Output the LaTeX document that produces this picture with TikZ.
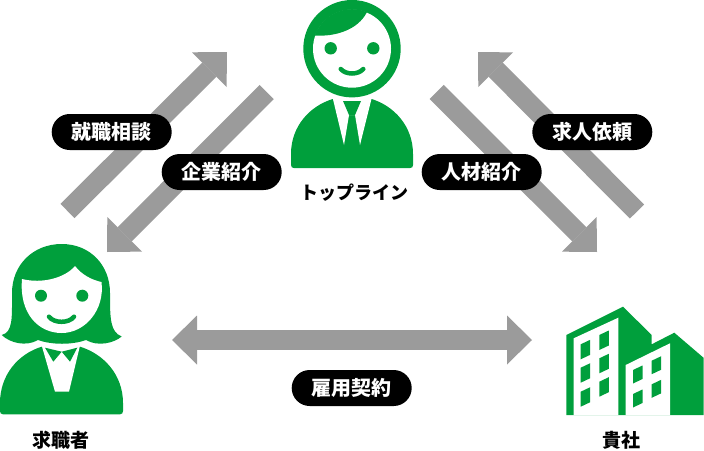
\documentclass[tikz,border=0pt]{standalone}
\usepackage{fontspec}
\usetikzlibrary{arrows.meta,shapes.misc}
\setmainfont{Noto Sans CJK JP}
\definecolor{iconcol}{HTML}{009F3C}
\definecolor{arrowcol}{HTML}{9B9B9B}
\tikzset{
  bigarrow/.style={draw=arrowcol,line width=20pt,-{Triangle[length=25pt,width=49pt,fill=arrowcol,line width=0pt]}},
  bothways/.style={draw=arrowcol,line width=20pt,{Triangle[length=25pt,width=49pt,fill=arrowcol,line width=0pt]}-{Triangle[length=25pt,width=49pt,fill=arrowcol,line width=0pt]}},
  pill/.style={rounded rectangle,fill=black,text=white,minimum width=120pt,minimum height=36pt,inner sep=0pt,font=\fontsize{20}{20}\selectfont\bfseries},
  caption/.style={text=black,inner sep=0pt,font=\fontsize{19}{19}\selectfont\bfseries},
  smile/.style={draw=iconcol,line width=4.5pt,line cap=round}
}
\begin{document}
\begin{tikzpicture}[x=1pt,y=-1pt]
  \useasboundingbox (0,0) rectangle (704,450);

  \coordinate (a1) at (67.5,211);
  \coordinate (b1) at (227,52);
  \coordinate (a2) at (266.7,92);
  \coordinate (b2) at (107,252);
  \coordinate (a3) at (436.7,92);
  \coordinate (b3) at (597,252);
  \coordinate (a4) at (637,211.5);
  \coordinate (b4) at (478,52);
  \coordinate (a5) at (172,340);
  \coordinate (b5) at (532,340);

  \draw[bigarrow] (a1) -- (b1);
  \draw[bigarrow] (a2) -- (b2);
  \draw[bigarrow] (a3) -- (b3);
  \draw[bigarrow] (a4) -- (b4);
  \draw[bothways] (a5) -- (b5);

  \node [pill] (soudan) at (111.7,132) {就職相談};
  \node [pill] (kigyou) at (221.7,172) {企業紹介};
  \node [pill] (jinzai) at (481.7,172) {人材紹介};
  \node [pill] (kyujin) at (592.3,132) {求人依頼};
  \node [pill] (koyou) at (351.7,388) {雇用契約};

  \node [caption,font=\fontsize{18}{18}\selectfont\bfseries] (topline) at (354,193) {トップライン};
  \node [caption] (seeker) at (61,440) {求職者};
  \node [caption] (company) at (621.7,440) {貴社};

  % man
  \fill[iconcol] (352,48.7) circle (48.7);
  \fill[white] (352,48.7) circle (39);
  \begin{scope}
    \clip (352,48.7) circle (39.5);
    \fill[iconcol] (314,35.5) .. controls (335,37) and (358,30) .. (367,12) -- (367,0) -- (300,0) -- cycle;
  \end{scope}
  \fill[iconcol] (330.7,48.3) circle (6.2);
  \fill[iconcol] (373.3,48.3) circle (6.2);
  \draw[smile] (340.7,69) .. controls (346,75) and (358,75) .. (363.3,69);
  \fill[iconcol] (332.7,99) .. controls (310,106) and (291,126) .. (291,154) -- (291,165) .. controls (291,167) and (292,168) .. (294,168)
    -- (410,168) .. controls (412,168) and (413,167) .. (413,165) -- (413,154) .. controls (413,126) and (394,106) .. (371.7,99) -- cycle;
  \fill[white] (332.7,98) -- (344,145) -- (349,115) -- (355,115) -- (360,145) -- (371.7,98) -- cycle;
  \fill[iconcol] (343,101) -- (361,101) -- (355,115) -- (349,115) -- cycle;

  % woman
  \fill[iconcol] (61.7,244) .. controls (90,244) and (110,265) .. (110,293) .. controls (110,318) and (110,332) .. (121.7,336.5)
    .. controls (114,343) and (98,347) .. (86,340) .. controls (72,345) and (52,345) .. (38,340)
    .. controls (26,347) and (10,343) .. (1.7,335) .. controls (13,332) and (12,318) .. (12,293) .. controls (12,265) and (33,244) .. (61.7,244) -- cycle;
  \fill[white] (22,279) .. controls (42,284) and (65,278) .. (75,266) .. controls (82,275) and (92,280) .. (101.5,282)
    .. controls (105,310) and (85,333) .. (61.7,333) .. controls (38,333) and (19,313) .. (22,279) -- cycle;
  \fill[iconcol] (41,295.7) circle (6);
  \fill[iconcol] (82.3,295.7) circle (6);
  \draw[smile] (49,316.7) .. controls (54,323.5) and (69,323.5) .. (74,316.7);
  \fill[iconcol] (41.7,346.7) .. controls (18,354) and (0,375) .. (0,403) -- (0,411) .. controls (0,413) and (1,414.3) .. (3,414.3)
    -- (120,414.3) .. controls (122,414.3) and (123,413) .. (123,411) -- (123,403) .. controls (123,375) and (104,354) .. (80,346.7) -- cycle;
  \fill[white] (41.7,345.5) -- (55,391.7) -- (69,391.7) -- (80,345.5) -- cycle;
  \fill[iconcol] (45,347.7) -- (61.7,351.7) -- (77.3,347.7) -- (70,361.7) -- (61.7,351.7) -- (53.3,361.7) -- cycle;

  % building
  \fill[iconcol] (566.3,415) -- (566.3,335) -- (623,306.7) -- (651.7,335) -- (651.7,344.3) -- (674.3,332.7) -- (703.5,357.7) -- (703.5,415) -- cycle;
  \fill[white] (573.7,338.3) -- (618.3,317.7) -- (618.3,415) -- (573.7,415) -- cycle;
  \fill[white] (625.7,365) -- (670,343.3) -- (670,415) -- (625.7,415) -- cycle;
  \foreach \x/\y in {580.7/344.3,580.7/367.7,580.7/391.7,599.3/335,599.3/358.3,599.3/381.7}
    \fill[iconcol] (\x,\y) -- ++(9.5,-4.5) -- ++(0,15) -- ++(-9.5,4.5) -- cycle;
  \foreach \x/\y in {633/370,633/394,651.7/360.7,651.7/384.3}
    \fill[iconcol] (\x,\y) -- ++(9.5,-4.5) -- ++(0,13.5) -- ++(-9.5,4.5) -- cycle;
\end{tikzpicture}
\end{document}
